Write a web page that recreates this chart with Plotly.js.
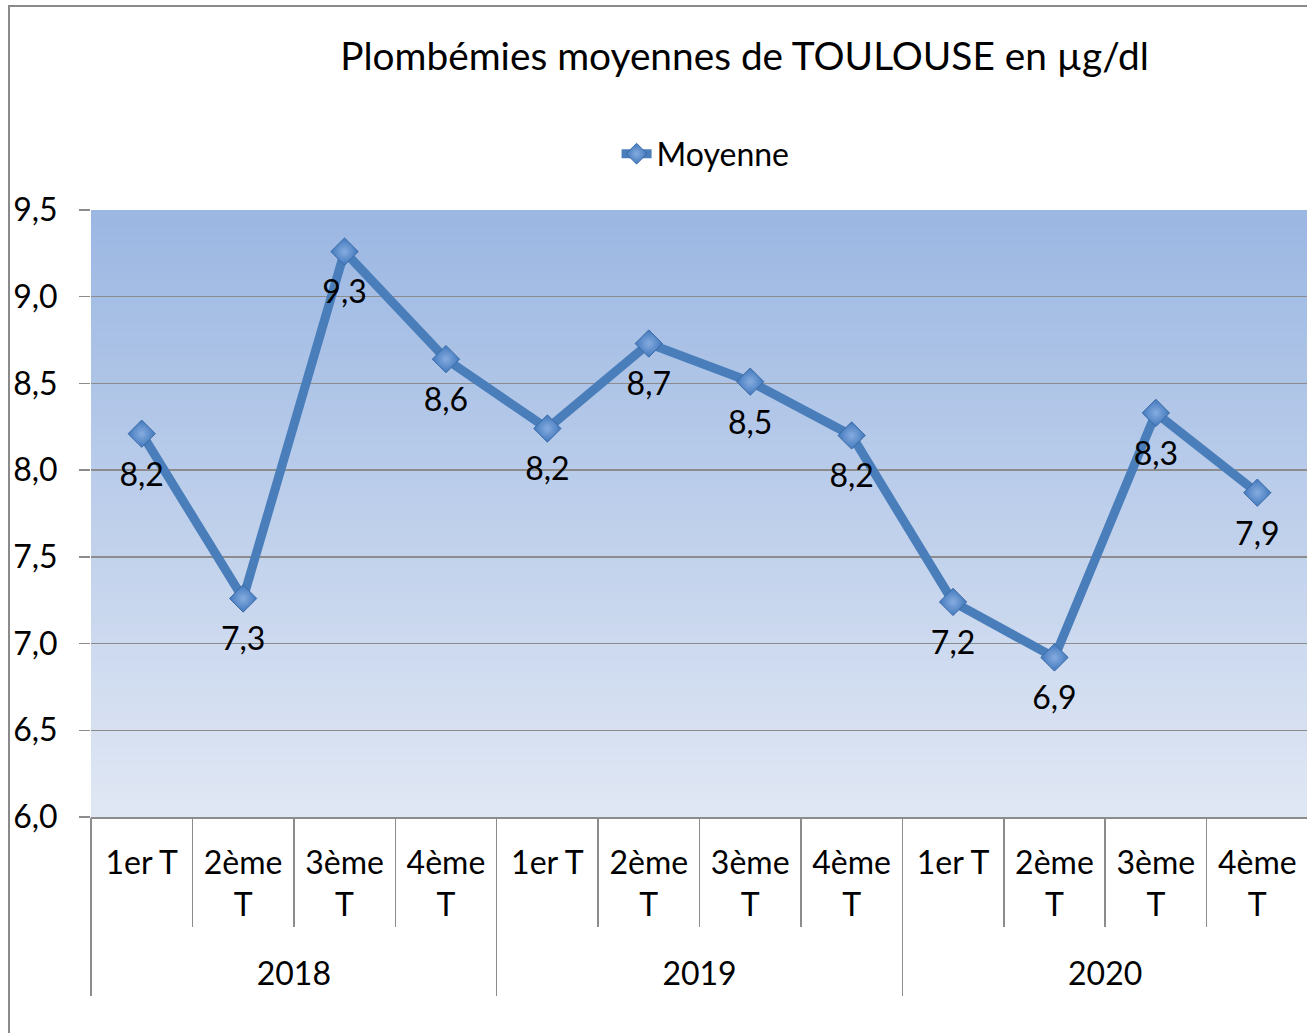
<!DOCTYPE html>
<html>
<head>
<meta charset="utf-8">
<script src="https://cdn.plot.ly/plotly-3.0.1.min.js"></script>
<style>
html,body{margin:0;padding:0;overflow:hidden;background:#fff;width:1307px;height:1033px;}
#frame{position:absolute;left:8px;top:5px;width:1400px;height:1100px;border-left:2px solid #8a8a8a;border-top:2px solid #8a8a8a;pointer-events:none;z-index:5;}
#chart{position:absolute;left:0;top:0;}
</style>
</head>
<body>
<div id="frame"></div>
<div id="chart"></div>
<script>
const years = ["2018","2018","2018","2018","2019","2019","2019","2019","2020","2020","2020","2020"];
const quarters = ["1er T","2ème<br>T","3ème<br>T","4ème<br>T","1er T","2ème<br>T","3ème<br>T","4ème<br>T","1er T","2ème<br>T","3ème<br>T","4ème<br>T"];
const moyenne = [8.21, 7.26, 9.26, 8.64, 8.24, 8.73, 8.51, 8.20, 7.24, 6.92, 8.33, 7.87];
const yTicks = [6.0, 6.5, 7.0, 7.5, 8.0, 8.5, 9.0, 9.5];

const FONT = "Lato, 'Open Sans', sans-serif";
const grid = "#8c8c8c";

// category positions derived from the arrays
const idx = quarters.map((_, i) => i);
const quarterBounds = idx.slice(1).map(i => i - 0.5);
const yearNames = [...new Set(years)];
const yearCenters = yearNames.map(y => {
  const ii = idx.filter(i => years[i] === y);
  return (ii[0] + ii[ii.length - 1]) / 2;
});
const yearBounds = [-0.5].concat(yearNames.map(y => {
  const ii = idx.filter(i => years[i] === y);
  return ii[ii.length - 1] + 0.5;
}));

// gradient background for plot area (bands)
const shapes = [];
const N = 70;
const cTop = [155,183,226], cBot = [224,231,244];
for (let i = 0; i < N; i++) {
  const t = i / (N - 1);
  const c = cTop.map((v, k) => Math.round(v + (cBot[k] - v) * t));
  shapes.push({type:"rect", xref:"paper", yref:"paper", x0:0, x1:1,
    y0: Math.max(0, 1 - (i + 1) / N - 0.004), y1: 1 - i / N, layer:"below",
    line:{width:0}, fillcolor:`rgb(${c[0]},${c[1]},${c[2]})`});
}

const lineTrace = {
  x: idx, y: moyenne, type: "scatter", mode: "lines+markers",
  name: "Moyenne",
  line: {color: "#4a7ebb", width: 9},
  marker: {symbol: "diamond", size: 21, color: "#4178bd",
           line: {color: "#3a6aa5", width: 1},
           gradient: {type: "radial", color: "#86acdf"}},
  hoverinfo: "skip"
};
const labelTrace = {
  x: idx, y: moyenne, type: "scatter", mode: "markers+text",
  showlegend: false,
  marker: {size: 43, color: "rgba(0,0,0,0)"},
  texttemplate: "%{y:.1f}",
  textposition: "bottom center",
  textfont: {family: FONT, size: 32, color: "#000"},
  cliponaxis: false,
  hoverinfo: "skip"
};
const yearTrace = {
  x: idx, y: moyenne, type: "scatter", mode: "none", xaxis: "x2",
  showlegend: false, hoverinfo: "skip"
};

const layout = {
  width: 1330, height: 1033,
  margin: {l: 91, r: 22, t: 210, b: 216},
  paper_bgcolor: "rgba(0,0,0,0)",
  plot_bgcolor: "rgba(0,0,0,0)",
  separators: ", ",
  font: {family: FONT, size: 32, color: "#000"},
  title: {text: "Plombémies moyennes de TOULOUSE en µg/dl",
          font: {family: FONT, size: 38.8, color: "#000"},
          xref: "paper", x: 0.537, xanchor: "center",
          yref: "container", y: 0.945, yanchor: "middle"},
  showlegend: true,
  legend: {orientation: "h", xref: "paper", x: 0.505, xanchor: "center",
           yref: "container", y: 0.851, yanchor: "middle",
           font: {family: FONT, size: 32, color: "#000"},
           bgcolor: "rgba(0,0,0,0)", itemwidth: 30},
  xaxis: {range: [-0.5, 11.5], tickmode: "array", tickvals: idx, ticktext: quarters,
          showline: true, linecolor: grid, linewidth: 1.5,
          ticks: "", ticklabelstandoff: 17,
          minor: {tickmode: "array", tickvals: quarterBounds, ticks: "outside",
                  ticklen: 108, tickcolor: grid, tickwidth: 1.5, showgrid: false},
          showgrid: false, zeroline: false,
          tickfont: {family: FONT, size: 32, color: "#000"}},
  xaxis2: {range: [-0.5, 11.5], overlaying: "x", anchor: "y", side: "bottom",
           tickmode: "array", tickvals: yearCenters, ticktext: yearNames,
           ticks: "", ticklabelstandoff: 135, showline: false,
           minor: {tickmode: "array", tickvals: yearBounds, ticks: "outside",
                   ticklen: 178, tickcolor: grid, tickwidth: 1.5, showgrid: false},
           showgrid: false, zeroline: false,
           tickfont: {family: FONT, size: 32, color: "#000"}},
  yaxis: {range: [6, 9.5], tickvals: yTicks, tickformat: ".1f",
          showgrid: true, gridcolor: grid, gridwidth: 1.5,
          ticks: "outside", ticklen: 11, tickcolor: grid, tickwidth: 1.5,
          showline: false, zeroline: false, ticklabelstandoff: 15,
          tickfont: {family: FONT, size: 32, color: "#000"}},
  shapes: shapes
};

Plotly.newPlot("chart", [lineTrace, labelTrace, yearTrace], layout, {staticPlot: true, displayModeBar: false});
</script>
</body>
</html>
